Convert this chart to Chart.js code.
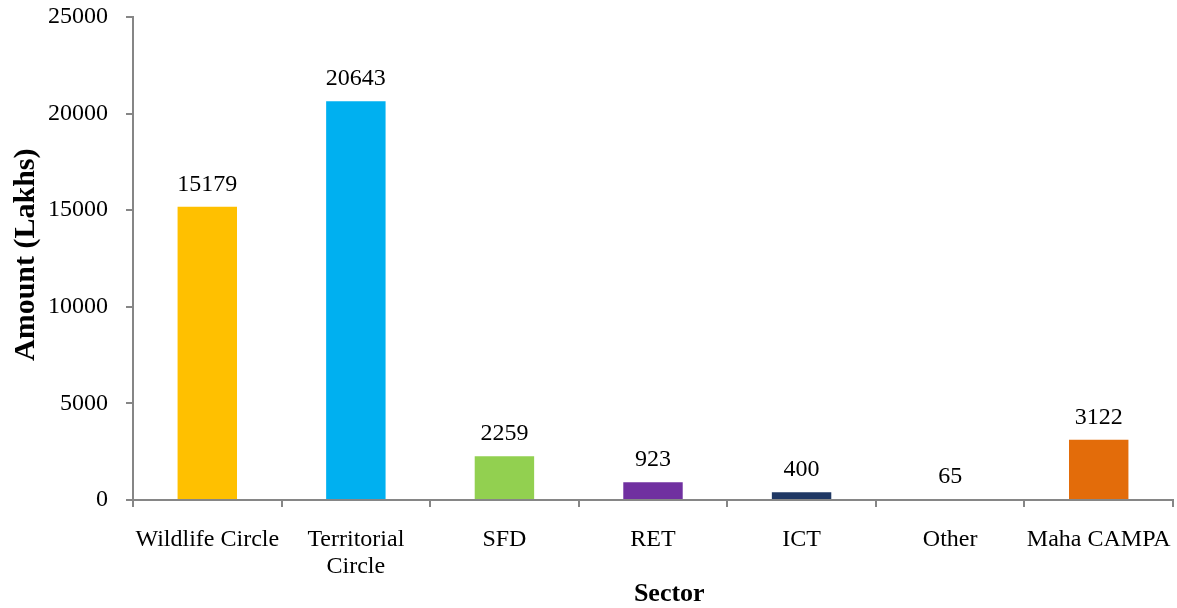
<!DOCTYPE html>
<html lang="en">
<head>
<meta charset="UTF-8">
<title>Amount by Sector</title>
<script src="https://cdn.jsdelivr.net/npm/chart.js@4.4.0/dist/chart.umd.min.js"></script>
<style>
  html, body { margin: 0; padding: 0; background: #fff; }
  #wrap { width: 1177px; height: 608px; }
</style>
</head>
<body>
<div id="wrap"><canvas id="chart" width="1177" height="608"></canvas></div>
<script>
// data
const sectors = ['Wildlife Circle', ['Territorial', 'Circle'], 'SFD', 'RET', 'ICT', 'Other', 'Maha CAMPA'];
const amounts = [15179, 20643, 2259, 923, 400, 65, 3122];
const barColors = ['#FFC000', '#00B0F0', '#92D050', '#7030A0', '#1F3864', '#FFFFFF', '#E36C0A'];
const yTicks = [0, 5000, 10000, 15000, 20000, 25000];

const serif = '"Liberation Serif", "Times New Roman", serif';
const axisGray = '#868686';

// value labels above each bar
const valueLabels = {
  id: 'valueLabels',
  afterDatasetsDraw(chart) {
    const ctx = chart.ctx;
    const meta = chart.getDatasetMeta(0);
    ctx.save();
    ctx.font = '24px ' + serif;
    ctx.fillStyle = '#000';
    ctx.textAlign = 'center';
    ctx.textBaseline = 'alphabetic';
    meta.data.forEach((bar, i) => {
      ctx.fillText(String(amounts[i]), bar.x, bar.y - 16);
    });
    ctx.restore();
  }
};

new Chart(document.getElementById('chart'), {
  type: 'bar',
  data: {
    labels: sectors,
    datasets: [{
      data: amounts,
      backgroundColor: barColors,
      barPercentage: 0.4,
      categoryPercentage: 1
    }]
  },
  options: {
    responsive: false,
    animation: false,
    layout: { padding: { top: 17, right: 4, left: 8, bottom: 0 } },
    plugins: { legend: { display: false }, tooltip: { enabled: false } },
    scales: {
      x: {
        afterFit(axis) { axis.height = 108; axis.paddingLeft = 0; axis.paddingRight = 0; },
        grid: { offset: true, drawOnChartArea: false, tickLength: 7, color: axisGray, lineWidth: 2 },
        border: { color: axisGray, width: 2 },
        ticks: { color: '#000', font: { family: serif, size: 24, lineHeight: 1.1 }, padding: 20, maxRotation: 0, autoSkip: false },
        title: { display: true, text: '\u00a0\u00a0\u00a0\u00a0\u00a0Sector', color: '#000', font: { family: serif, size: 26, weight: 'bold' }, padding: { top: 4, bottom: -2 } }
      },
      y: {
        min: 0,
        max: 25000,
        afterFit(axis) { axis.width = 125; axis.paddingTop = 0; axis.paddingBottom = 0; },
        afterBuildTicks(axis) { axis.ticks = yTicks.map(v => ({ value: v })); },
        grid: { drawOnChartArea: false, tickLength: 7, color: axisGray, lineWidth: 2 },
        border: { color: axisGray, width: 2 },
        ticks: { color: '#000', font: { family: serif, size: 24 }, padding: 18, callback: v => String(v) },
        title: { display: true, text: '\u00a0Amount (Lakhs)', color: '#000', font: { family: serif, size: 30, weight: 'bold' }, padding: { top: 0, bottom: 0 } }
      }
    }
  },
  plugins: [valueLabels]
});
</script>
</body>
</html>
